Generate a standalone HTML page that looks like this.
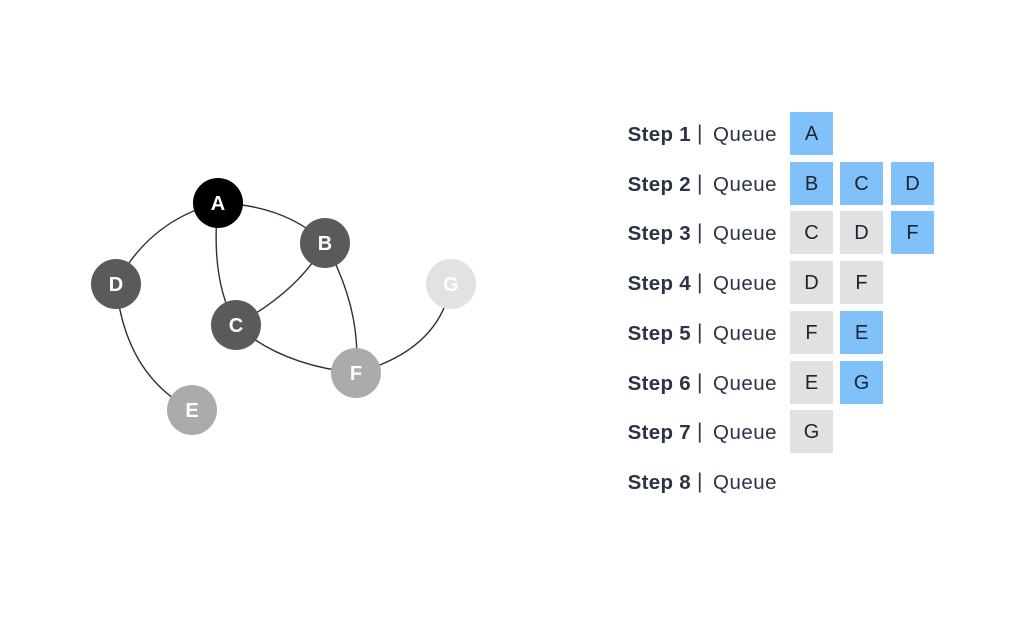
<!DOCTYPE html>
<html><head><style>
body{margin:0;width:1032px;height:623px;background:#fff;overflow:hidden;position:relative;font-family:"Liberation Sans",sans-serif}
.row{position:absolute;left:0;height:44px;width:1032px}
.lab{position:absolute;right:341px;top:11px;font-weight:bold;font-size:20.5px;color:#2b3445;letter-spacing:0.3px}
.bar{position:absolute;left:697px;top:10px;font-size:21px;color:#2b3445}
.q{position:absolute;left:713px;top:11px;font-size:20.5px;color:#2b3445;letter-spacing:0.5px}
.b{position:absolute;top:0;width:43px;height:43px;line-height:45px;text-align:center;font-size:20px;color:#1d2430}
.bl{background:#80c1fa}.gr{background:#e1e1e1}
</style></head><body>
<svg width="1032" height="623" style="position:absolute;left:0;top:0">
<g fill="none" stroke="#2b3040" stroke-width="1.4">
<path d="M116 284 Q150 220 218 203"/>
<path d="M218 203 Q285 205 325 243"/>
<path d="M218 203 Q210 280 236 325"/>
<path d="M325 243 Q300 290 236 325"/>
<path d="M325 243 Q362 310 356 373"/>
<path d="M236 325 Q280 365 356 373"/>
<path d="M356 373 Q440 350 451 284"/>
<path d="M116 284 Q125 375 192 410"/>
</g>
<g font-family="Liberation Sans,sans-serif" font-weight="bold" font-size="20" fill="#fff" text-anchor="middle">
<circle cx="218" cy="203" r="25" fill="#000"/><text x="218" y="210">A</text>
<circle cx="325" cy="243" r="25" fill="#5a5a5a"/><text x="325" y="250">B</text>
<circle cx="116" cy="284" r="25" fill="#5a5a5a"/><text x="116" y="291">D</text>
<circle cx="236" cy="325" r="25" fill="#5a5a5a"/><text x="236" y="332">C</text>
<circle cx="451" cy="284" r="25" fill="#e2e2e2"/><text x="451" y="291">G</text>
<circle cx="356" cy="373" r="25" fill="#ababab"/><text x="356" y="380">F</text>
<circle cx="192" cy="410" r="25" fill="#ababab"/><text x="192" y="417">E</text>
</g>
</svg>
<div class="row" style="top:112px"><span class="lab">Step 1</span><span class="bar">|</span><span class="q">Queue</span><div class="b bl" style="left:790px">A</div></div>
<div class="row" style="top:162px"><span class="lab">Step 2</span><span class="bar">|</span><span class="q">Queue</span><div class="b bl" style="left:790px">B</div><div class="b bl" style="left:840px">C</div><div class="b bl" style="left:891px">D</div></div>
<div class="row" style="top:211px"><span class="lab">Step 3</span><span class="bar">|</span><span class="q">Queue</span><div class="b gr" style="left:790px">C</div><div class="b gr" style="left:840px">D</div><div class="b bl" style="left:891px">F</div></div>
<div class="row" style="top:261px"><span class="lab">Step 4</span><span class="bar">|</span><span class="q">Queue</span><div class="b gr" style="left:790px">D</div><div class="b gr" style="left:840px">F</div></div>
<div class="row" style="top:311px"><span class="lab">Step 5</span><span class="bar">|</span><span class="q">Queue</span><div class="b gr" style="left:790px">F</div><div class="b bl" style="left:840px">E</div></div>
<div class="row" style="top:361px"><span class="lab">Step 6</span><span class="bar">|</span><span class="q">Queue</span><div class="b gr" style="left:790px">E</div><div class="b bl" style="left:840px">G</div></div>
<div class="row" style="top:410px"><span class="lab">Step 7</span><span class="bar">|</span><span class="q">Queue</span><div class="b gr" style="left:790px">G</div></div>
<div class="row" style="top:460px"><span class="lab">Step 8</span><span class="bar">|</span><span class="q">Queue</span></div>
</body></html>
